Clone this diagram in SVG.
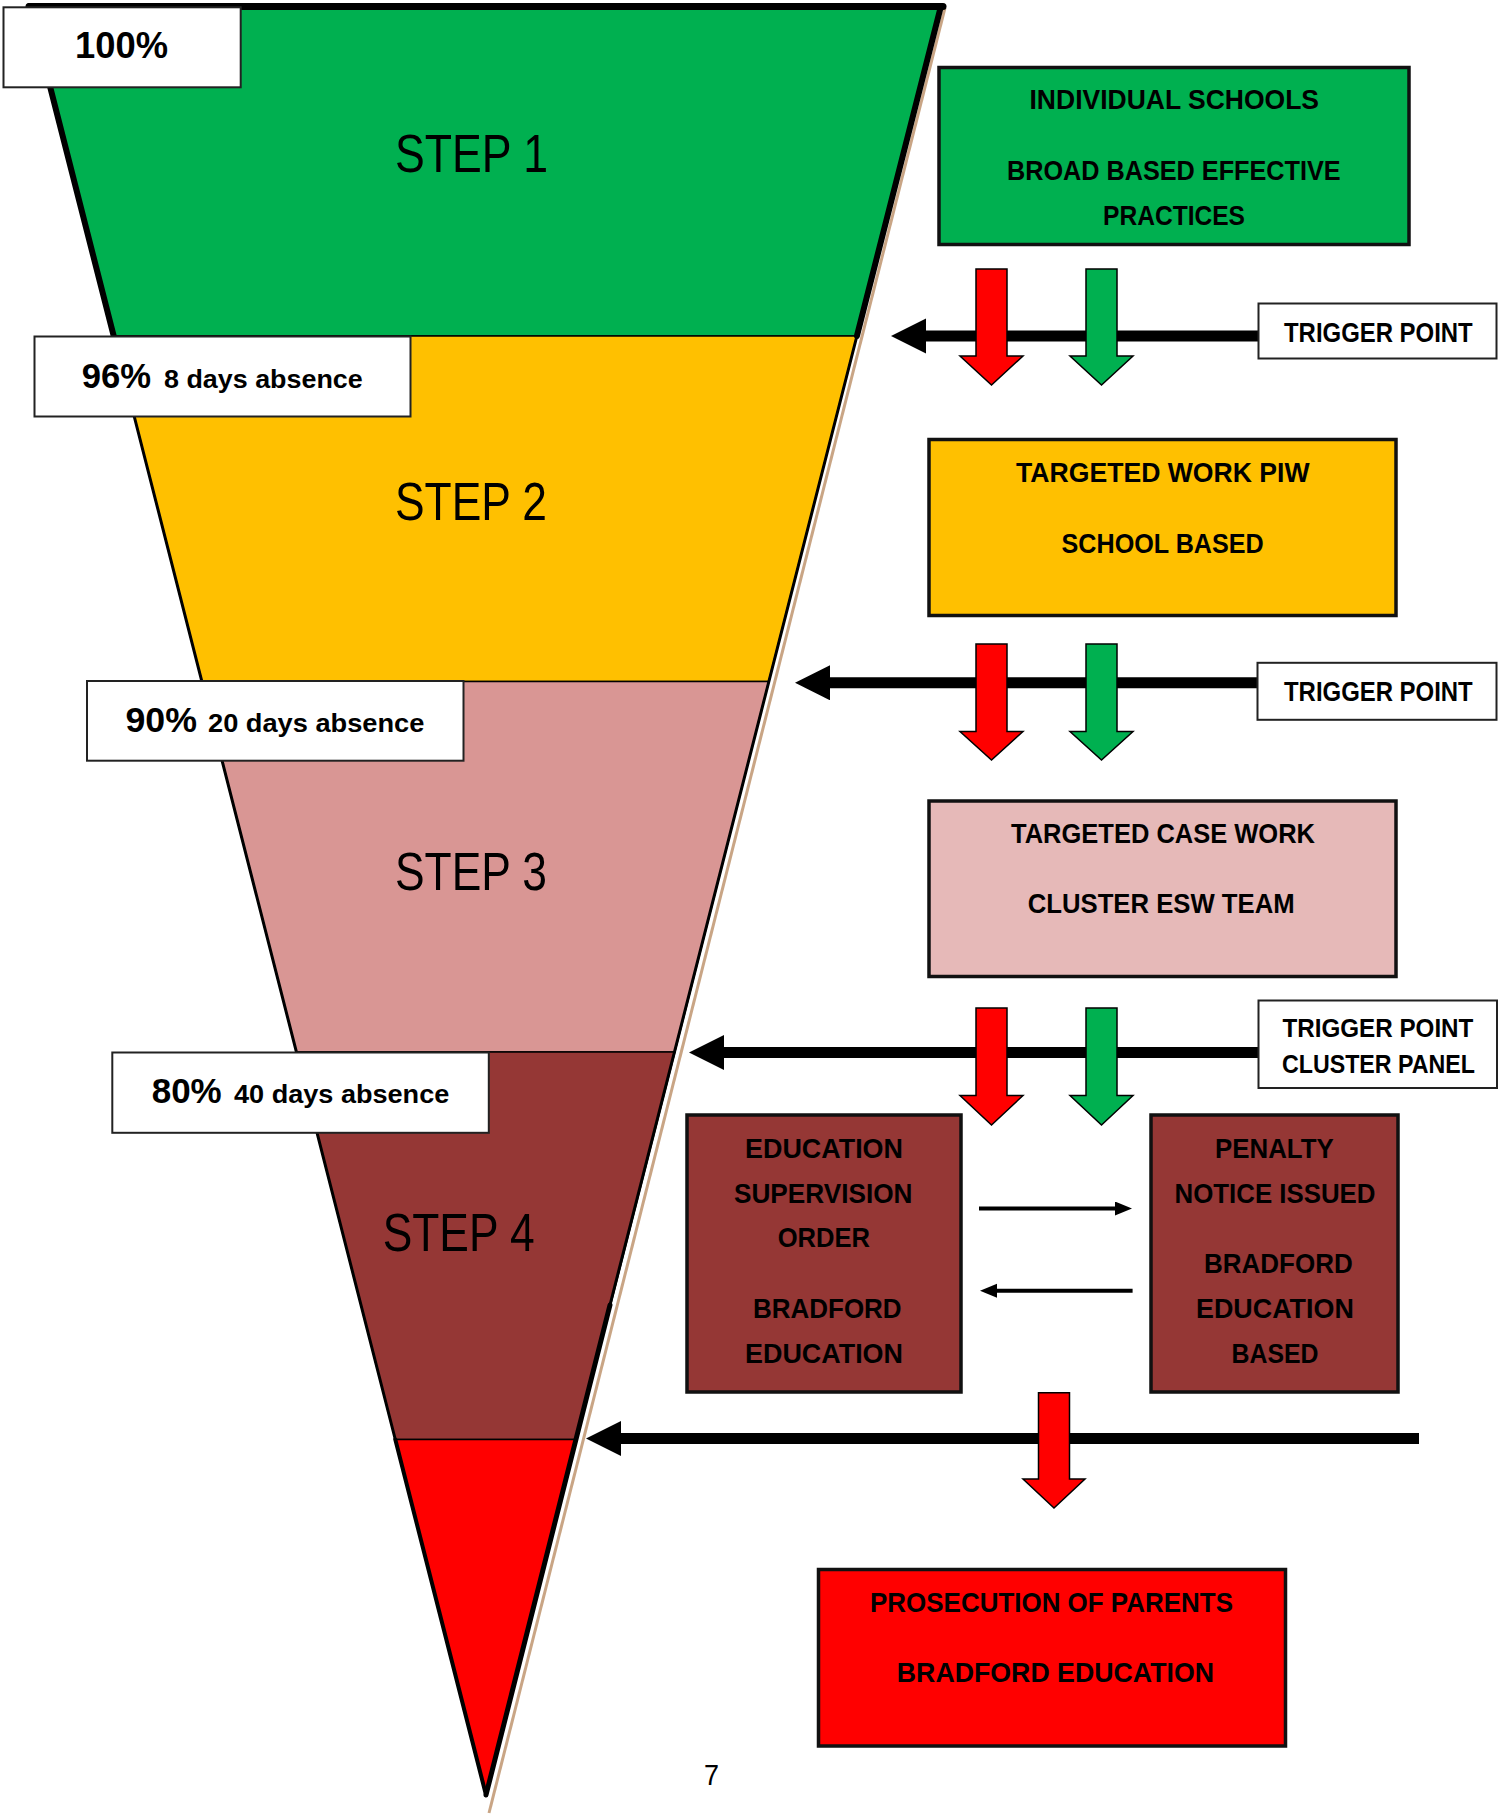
<svg xmlns="http://www.w3.org/2000/svg" width="1502" height="1817" viewBox="0 0 1502 1817">
<style>
.sec{stroke:#000;stroke-width:1.5;stroke-linejoin:miter}
.edge{stroke:#000;fill:none;stroke-linecap:round}
.lbl{fill:#fff;stroke:#222;stroke-width:2}
.box{stroke:#111;stroke-width:3.5}
.tb{font-family:"Liberation Sans",Arial,sans-serif;font-weight:bold;fill:#000}
.tr{font-family:"Liberation Sans",Arial,sans-serif;font-weight:normal;fill:#000}
.bar{stroke:#000;stroke-width:11;fill:none}
.thin{stroke:#000;stroke-width:4;fill:none}
.blk{stroke:#000;stroke-width:1.5;stroke-linejoin:miter}
</style>
<defs>
<marker id="bigHead" markerUnits="userSpaceOnUse" markerWidth="36" markerHeight="36" viewBox="0 0 36 36" refX="1" refY="17.5" orient="auto">
<path d="M0,0 L35,17.5 L0,35 Z" fill="#000"/>
</marker>
<marker id="smallHead" markerUnits="userSpaceOnUse" markerWidth="18" markerHeight="16" viewBox="0 0 18 16" refX="1" refY="7" orient="auto">
<path d="M0,0 L17,7 L0,14 Z" fill="#000"/>
</marker>
</defs>

<g id="funnel">
<line x1="945" y1="8" x2="489" y2="1813" stroke="#C9A585" stroke-width="3"/>
<polygon id="step1" class="sec" fill="#00B050" points="29.3,5 941,5 856.9,336 113.7,336"/>
<polygon id="step2" class="sec" fill="#FFC000" points="113.7,336 856.9,336 768.7,681.5 201.9,681.5"/>
<polygon id="step3" class="sec" fill="#D99694" points="201.9,681.5 768.7,681.5 674.9,1052 296.4,1052"/>
<polygon id="step4" class="sec" fill="#953735" points="296.4,1052 674.9,1052 576.4,1439.5 395.3,1439.5"/>
<polygon id="step5" class="sec" fill="#FF0000" points="395.3,1439.5 576.4,1439.5 486,1795"/>
<line class="edge" x1="29" y1="6.5" x2="943" y2="6.5" stroke-width="7" stroke-linecap="butt"/>
<line class="edge" x1="29.5" y1="6" x2="113.7" y2="336" stroke-width="6"/>
<line class="edge" x1="113.7" y1="336" x2="395.3" y2="1439.5" stroke-width="3"/>
<line class="edge" x1="395.3" y1="1439.5" x2="486" y2="1795" stroke-width="4"/>
<line class="edge" x1="941" y1="6" x2="856.9" y2="336" stroke-width="6"/>
<line class="edge" x1="856.9" y1="336" x2="610" y2="1305" stroke-width="3"/>
<line class="edge" x1="610" y1="1305" x2="486" y2="1795" stroke-width="5"/>
<text class="tr" x="395" y="171.7" font-size="53" textLength="153" lengthAdjust="spacingAndGlyphs">STEP 1</text>
<text class="tr" x="395" y="520" font-size="53" textLength="152" lengthAdjust="spacingAndGlyphs">STEP 2</text>
<text class="tr" x="395" y="890" font-size="53" textLength="152" lengthAdjust="spacingAndGlyphs">STEP 3</text>
<text class="tr" x="382.7" y="1250.7" font-size="53" textLength="152" lengthAdjust="spacingAndGlyphs">STEP 4</text>
</g>

<g id="label100">
<rect class="lbl" x="3.5" y="7.3" width="237.2" height="80"/>
<text class="tb" x="75" y="58.3" font-size="36" textLength="93" lengthAdjust="spacingAndGlyphs">100%</text>
</g>
<g id="label96">
<rect class="lbl" x="34.5" y="336.5" width="376" height="80"/>
<text class="tb" x="81.7" y="388.3" font-size="35" textLength="69.3" lengthAdjust="spacingAndGlyphs">96%</text>
<text class="tb" x="164" y="388.3" font-size="26" textLength="198.7" lengthAdjust="spacingAndGlyphs">8 days absence</text>
</g>
<g id="label90">
<rect class="lbl" x="87" y="681" width="376.5" height="79.7"/>
<text class="tb" x="125.5" y="731.7" font-size="35" textLength="71.5" lengthAdjust="spacingAndGlyphs">90%</text>
<text class="tb" x="208" y="731.7" font-size="26" textLength="216.4" lengthAdjust="spacingAndGlyphs">20 days absence</text>
</g>
<g id="label80">
<rect class="lbl" x="112.3" y="1052.5" width="376.5" height="80.3"/>
<text class="tb" x="151.7" y="1103.3" font-size="35" textLength="70" lengthAdjust="spacingAndGlyphs">80%</text>
<text class="tb" x="234" y="1103.3" font-size="26" textLength="215.3" lengthAdjust="spacingAndGlyphs">40 days absence</text>
</g>

<g id="connectors">
<line class="bar" x1="1258" y1="336" x2="925" y2="336" marker-end="url(#bigHead)"/>
<line class="bar" x1="1257" y1="682.8" x2="829" y2="682.8" marker-end="url(#bigHead)"/>
<line class="bar" x1="1258" y1="1052.5" x2="723" y2="1052.5" marker-end="url(#bigHead)"/>
<line class="bar" x1="1419" y1="1438.4" x2="620" y2="1438.4" marker-end="url(#bigHead)"/>
<path class="blk" fill="#FF0000" d="M976,269 H1007 V356 H1023 L991.5,385 L960,356 H976 Z"/>
<path class="blk" fill="#00B050" d="M1086,269 H1117 V356 H1133 L1101.5,385 L1070,356 H1086 Z"/>
<path class="blk" fill="#FF0000" d="M976,644 H1007 V731.5 H1023 L991.5,760 L960,731.5 H976 Z"/>
<path class="blk" fill="#00B050" d="M1086,644 H1117 V731.5 H1133 L1101.5,760 L1070,731.5 H1086 Z"/>
<path class="blk" fill="#FF0000" d="M976,1008 H1007 V1095.5 H1023 L991.5,1125 L960,1095.5 H976 Z"/>
<path class="blk" fill="#00B050" d="M1086,1008 H1117 V1095.5 H1133 L1101.5,1125 L1070,1095.5 H1086 Z"/>
<path class="blk" fill="#FF0000" d="M1038.5,1392.7 H1069.5 V1479 H1085 L1054,1508 L1023,1479 H1038.5 Z"/>
<line class="thin" x1="979" y1="1208.5" x2="1116" y2="1208.5" marker-end="url(#smallHead)"/>
<line class="thin" x1="1132.6" y1="1290.7" x2="996" y2="1290.7" marker-end="url(#smallHead)"/>
</g>

<g id="node-individual">
<rect class="box" x="939" y="67.5" width="470" height="177" fill="#00B050"/>
<text class="tb" x="1029.5" y="109.3" font-size="28" textLength="289.5" lengthAdjust="spacingAndGlyphs">INDIVIDUAL SCHOOLS</text>
<text class="tb" x="1007" y="180" font-size="28" textLength="333.6" lengthAdjust="spacingAndGlyphs">BROAD BASED EFFECTIVE</text>
<text class="tb" x="1103" y="225" font-size="28" textLength="142" lengthAdjust="spacingAndGlyphs">PRACTICES</text>
</g>
<g id="node-targeted">
<rect class="box" x="929" y="439.5" width="467" height="176" fill="#FFC000"/>
<text class="tb" x="1016" y="481.7" font-size="28" textLength="293.6" lengthAdjust="spacingAndGlyphs">TARGETED WORK PIW</text>
<text class="tb" x="1061.5" y="552.7" font-size="28" textLength="202.3" lengthAdjust="spacingAndGlyphs">SCHOOL BASED</text>
</g>
<g id="node-casework">
<rect class="box" x="929" y="801" width="467" height="175.5" fill="#E6B9B8"/>
<text class="tb" x="1011" y="842.7" font-size="28" textLength="304" lengthAdjust="spacingAndGlyphs">TARGETED CASE WORK</text>
<text class="tb" x="1027.7" y="913" font-size="28" textLength="267" lengthAdjust="spacingAndGlyphs">CLUSTER ESW TEAM</text>
</g>
<g id="node-eso">
<rect class="box" x="687" y="1115" width="274" height="277" fill="#953735"/>
<text class="tb" x="745" y="1158.3" font-size="28" textLength="158" lengthAdjust="spacingAndGlyphs">EDUCATION</text>
<text class="tb" x="734" y="1202.7" font-size="28" textLength="178.5" lengthAdjust="spacingAndGlyphs">SUPERVISION</text>
<text class="tb" x="777.7" y="1246.7" font-size="28" textLength="92.3" lengthAdjust="spacingAndGlyphs">ORDER</text>
<text class="tb" x="753" y="1318.3" font-size="28" textLength="148.6" lengthAdjust="spacingAndGlyphs">BRADFORD</text>
<text class="tb" x="745" y="1363.3" font-size="28" textLength="158" lengthAdjust="spacingAndGlyphs">EDUCATION</text>
</g>
<g id="node-penalty">
<rect class="box" x="1151" y="1115" width="247" height="277" fill="#953735"/>
<text class="tb" x="1215" y="1158.3" font-size="28" textLength="118.7" lengthAdjust="spacingAndGlyphs">PENALTY</text>
<text class="tb" x="1174.5" y="1202.7" font-size="28" textLength="201" lengthAdjust="spacingAndGlyphs">NOTICE ISSUED</text>
<text class="tb" x="1204" y="1272.7" font-size="28" textLength="148.7" lengthAdjust="spacingAndGlyphs">BRADFORD</text>
<text class="tb" x="1196" y="1318.3" font-size="28" textLength="157.8" lengthAdjust="spacingAndGlyphs">EDUCATION</text>
<text class="tb" x="1231.5" y="1363.3" font-size="28" textLength="87" lengthAdjust="spacingAndGlyphs">BASED</text>
</g>
<g id="node-prosecution">
<rect class="box" x="818.5" y="1569.5" width="467" height="176.5" fill="#FF0000" stroke-width="4"/>
<text class="tb" x="870" y="1611.7" font-size="28" textLength="363" lengthAdjust="spacingAndGlyphs">PROSECUTION OF PARENTS</text>
<text class="tb" x="896.8" y="1681.7" font-size="28" textLength="317.2" lengthAdjust="spacingAndGlyphs">BRADFORD EDUCATION</text>
</g>
<g id="trigger1">
<rect class="lbl" x="1258.5" y="303.5" width="238" height="55"/>
<text class="tb" x="1284" y="341.7" font-size="28" textLength="188.7" lengthAdjust="spacingAndGlyphs">TRIGGER POINT</text>
</g>
<g id="trigger2">
<rect class="lbl" x="1257.5" y="662.8" width="239" height="57"/>
<text class="tb" x="1284" y="701" font-size="28" textLength="188.7" lengthAdjust="spacingAndGlyphs">TRIGGER POINT</text>
</g>
<g id="trigger3">
<rect class="lbl" x="1258.5" y="1000.5" width="238.5" height="87.5"/>
<text class="tb" x="1282.4" y="1037" font-size="26" textLength="191" lengthAdjust="spacingAndGlyphs">TRIGGER POINT</text>
<text class="tb" x="1282" y="1073" font-size="26" textLength="193" lengthAdjust="spacingAndGlyphs">CLUSTER PANEL</text>
</g>
<text class="tr" x="704" y="1785" font-size="30" textLength="15" lengthAdjust="spacingAndGlyphs">7</text>
</svg>
